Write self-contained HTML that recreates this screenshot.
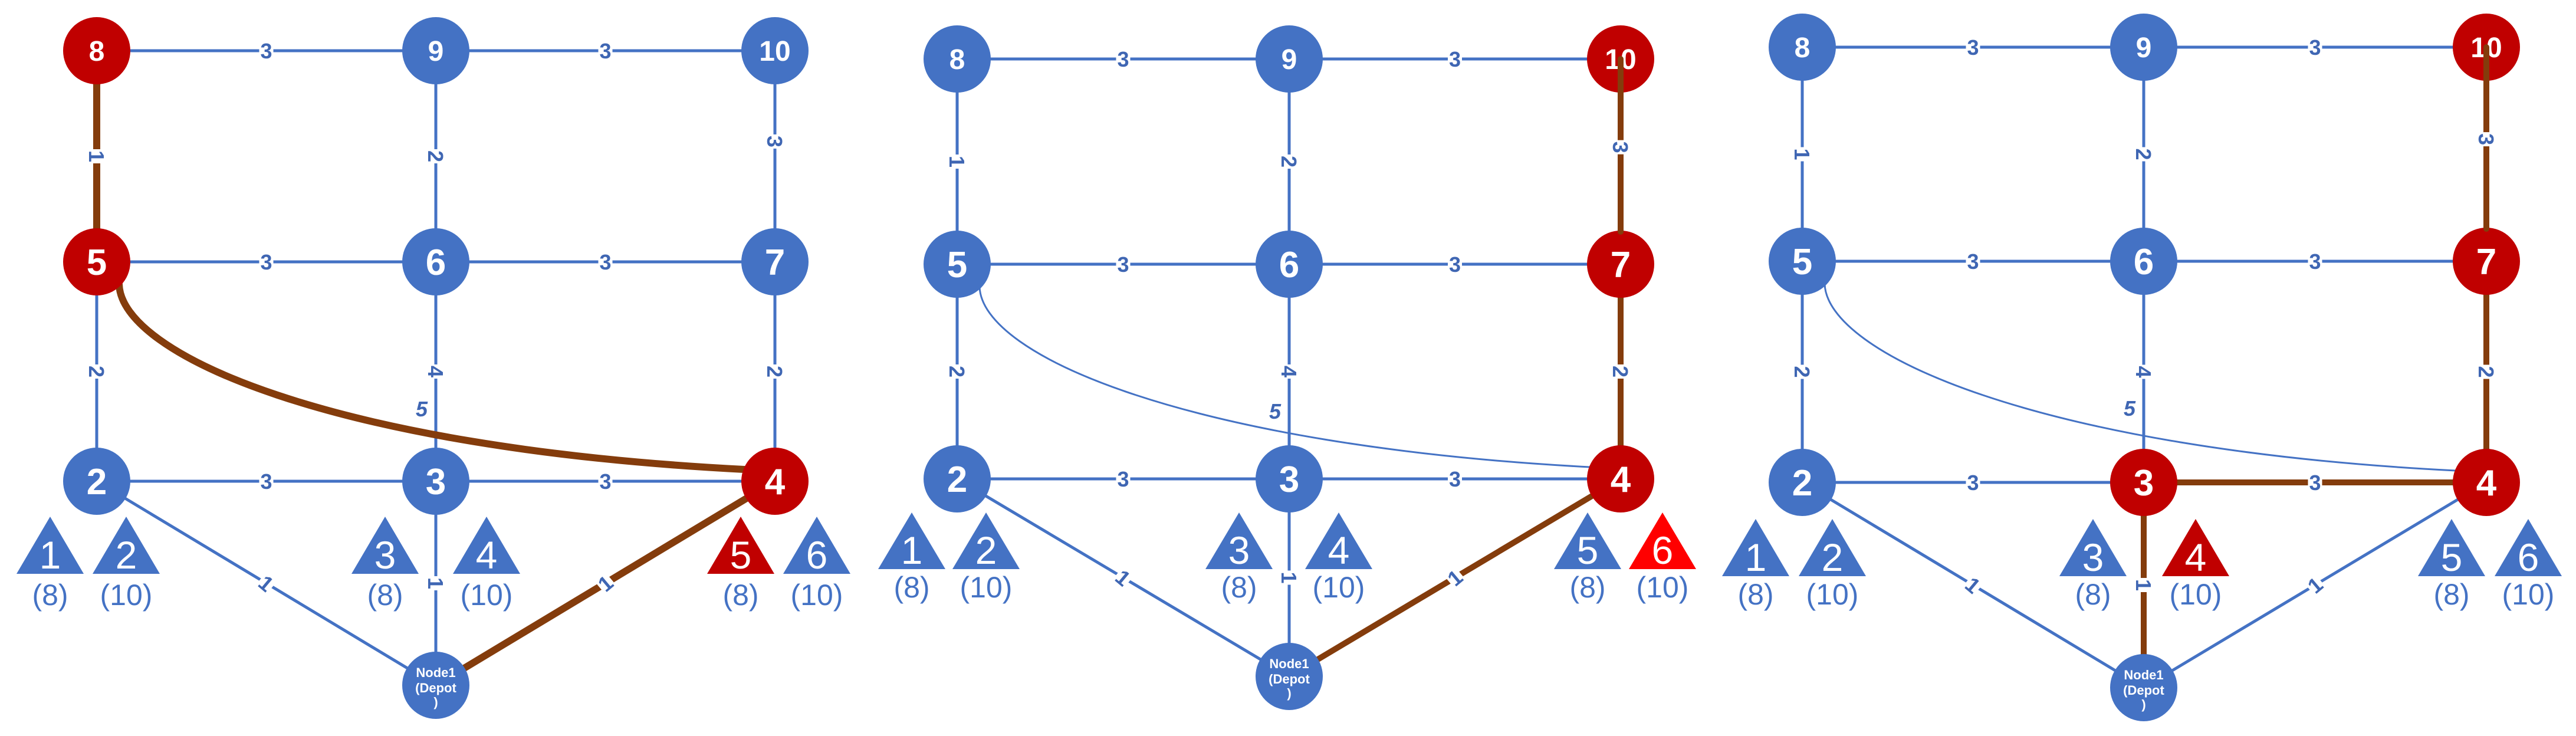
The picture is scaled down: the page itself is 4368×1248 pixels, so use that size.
<!DOCTYPE html>
<html><head><meta charset="utf-8">
<style>html,body{margin:0;padding:0;background:#fff;}svg{display:block}</style>
</head><body>
<svg id="s" xmlns="http://www.w3.org/2000/svg" width="4368" height="1248" viewBox="0 0 4368 1248"></svg>
<script>
const B="#4472C4",R="#C00000",BR="#843C0C",LB="#3F66B3";
const P=[
 {X:[164,739,1314],Y:[86,444,816],D:816+346,tri:[85,214,653,825,1256,1385],tt:876,tb:973,ty:1008,
  red:[8,5,4],brown:[[8,5],[5,4],[4,1]],tc:{5:R},bw:12,over:[]},
 {X:[1623,2186,2748],Y:[100,448,812],D:1147,tri:[1546,1672,2101,2270,2692,2819],tt:869,tb:965,ty:995,
  red:[10,7,4],brown:[[10,7],[7,4],[4,1]],tc:{6:"#FF0000"},bw:10,over:[[10,7]]},
 {X:[3056,3635,4216],Y:[80,443,818],D:1166,tri:[2977,3107,3549,3723,4157,4287],tt:880,tb:977,ty:1007,
  red:[10,7,4,3],brown:[[10,7],[7,4],[4,3],[3,1]],tc:{4:R},bw:10,over:[[10,7]]}
];
let o="";
function T(x,y,s,fs,fill,extra){return `<text x="${x}" y="${y}" font-family="Liberation Sans, sans-serif" font-size="${fs}" fill="${fill}" text-anchor="middle" ${extra||""}>${s}</text>`;}
function lab(x,y,s,rot,ital){
  let r=rot?`transform="rotate(${rot} ${x} ${y})"`:"";
  return `<g ${r}><rect x="${x-12}" y="${y-18}" width="24" height="36" fill="#fff"/>`+T(x,y+13,s,36,LB,`font-weight="bold" ${ital?'font-style="italic"':''}`)+`</g>`;
}
P.forEach(p=>{
  const pos={8:[p.X[0],p.Y[0]],9:[p.X[1],p.Y[0]],10:[p.X[2],p.Y[0]],5:[p.X[0],p.Y[1]],6:[p.X[1],p.Y[1]],7:[p.X[2],p.Y[1]],2:[p.X[0],p.Y[2]],3:[p.X[1],p.Y[2]],4:[p.X[2],p.Y[2]],1:[p.X[1],p.D]};
  const isB=(a,b)=>p.brown.some(e=>(e[0]==a&&e[1]==b)||(e[0]==b&&e[1]==a));
  const E=[[8,9,"3",0],[9,10,"3",0],[5,6,"3",0],[6,7,"3",0],[2,3,"3",0],[3,4,"3",0],
    [8,5,"1",90],[9,6,"2",90],[10,7,"3",90],[5,2,"2",90],[6,3,"4",90],[7,4,"2",90],
    [2,1,"1",40],[3,1,"1",90],[4,1,"1",-40]];
  let labels="";
  E.forEach(e=>{
    const a=pos[e[0]],b=pos[e[1]],br=isB(e[0],e[1]);
    const over=p.over.some(q=>q[0]==e[0]&&q[1]==e[1]);
    if(!over) o+=`<line x1="${a[0]}" y1="${a[1]}" x2="${b[0]}" y2="${b[1]}" stroke="${br?BR:B}" stroke-width="${br?p.bw:5}" stroke-linecap="round"/>`;
    let mx=(a[0]+b[0])/2,my=(a[1]+b[1])/2;
    if(e[0]==10) my=a[1]+(b[1]-a[1])*0.43;
    labels+=lab(mx,my,e[2],e[3],false);
  });
  // curve 5-4
  const s5=pos[5],s4=pos[4];
  const sx=s5[0]+38,sy=s5[1]+38,ex=s4[0]-52,ey=s4[1]-20;
  const br=isB(5,4);
  o+=`<path d="M${sx} ${sy} C${sx+3} ${sy+118} ${sx+358} ${ey-36} ${ex} ${ey}" fill="none" stroke="${br?BR:B}" stroke-width="${br?p.bw:3}" stroke-linecap="round"/>`;
  labels+=T(p.X[1]-24,p.Y[1]+262,"5",36,LB,'font-weight="bold" font-style="italic"');
  // nodes
  [8,9,10,5,6,7,2,3,4].forEach(n=>{
    const c=pos[n],red=p.red.includes(n);
    o+=`<circle cx="${c[0]}" cy="${c[1]}" r="57" fill="${red?R:B}"/>`;
    const top=(n>=8);
    o+=T(c[0],c[1]+(top?17:22),n,top?48:62,"#fff",'font-weight="bold"');
  });
  o+=`<circle cx="${pos[1][0]}" cy="${pos[1][1]}" r="57" fill="${B}"/>`;
  o+=T(pos[1][0],pos[1][1]-14,"Node1",22,"#fff",'font-weight="bold"');
  o+=T(pos[1][0],pos[1][1]+12,"(Depot",22,"#fff",'font-weight="bold"');
  o+=T(pos[1][0],pos[1][1]+36,")",22,"#fff",'font-weight="bold"');
  p.over.forEach(q=>{const a=pos[q[0]],b=pos[q[1]];
    o+=`<line x1="${a[0]}" y1="${a[1]}" x2="${b[0]}" y2="${b[1]-55}" stroke="${BR}" stroke-width="${p.bw}" stroke-linecap="round"/>`;});
  o+=labels;
  // triangles
  p.tri.forEach((x,i)=>{
    const k=i+1,col=p.tc[k]||B;
    o+=`<polygon points="${x},${p.tt} ${x+57},${p.tb} ${x-57},${p.tb}" fill="${col}"/>`;
    o+=T(x,p.tb-9,k,66,"#fff");
    o+=T(x,p.ty+18,i%2==0?"(8)":"(10)",50,B);
  });
});
document.getElementById("s").innerHTML=o;
</script>
</body></html>
